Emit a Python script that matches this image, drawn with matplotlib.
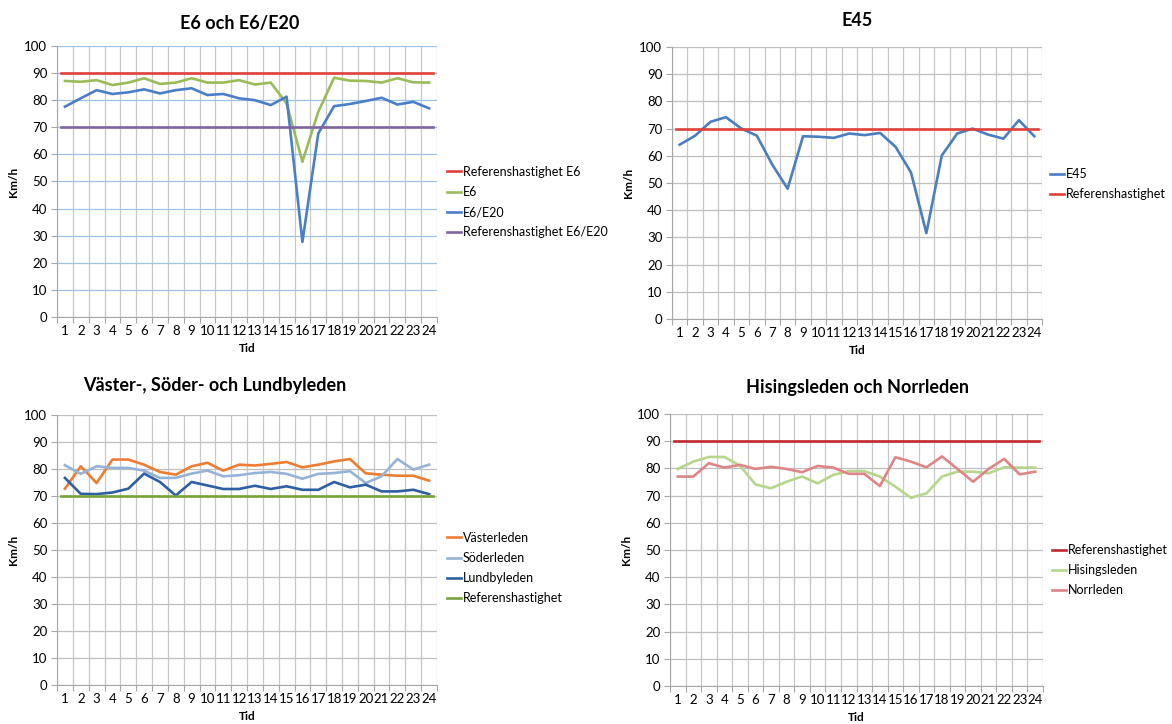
import numpy as np
import matplotlib
matplotlib.use('Agg')
import matplotlib.pyplot as plt

plt.rcParams['font.family'] = ['Lato', 'DejaVu Sans']

hours = list(range(1, 25))

# E6 och E6/E20
e6 = [87.1, 86.8, 87.4, 85.6, 86.5, 88.1, 86.0, 86.5, 88.1, 86.5, 86.5, 87.4,
      85.8, 86.5, 78.8, 57.3, 75.7, 88.3, 87.2, 87.1, 86.5, 88.1, 86.6, 86.5]
e6_e20 = [77.6, 80.7, 83.7, 82.3, 82.9, 84.0, 82.5, 83.7, 84.4, 81.9, 82.3, 80.7,
          80.0, 78.2, 81.3, 27.7, 67.7, 77.8, 78.6, 79.7, 80.9, 78.4, 79.4, 77.0]
ref_e6 = 90
ref_e6_e20 = 70

# E45
e45 = [64.1, 67.4, 72.5, 74.2, 70.0, 67.4, 56.8, 47.9, 67.2, 67.0, 66.6, 68.2,
       67.6, 68.4, 63.3, 53.9, 31.6, 60.1, 68.2, 70.0, 67.8, 66.3, 73.1, 67.2]
ref_e45 = 70

# Väster-, Söder- och Lundbyleden
vaster = [72.7, 81.0, 74.8, 83.5, 83.5, 81.6, 78.9, 77.9, 81.0, 82.3, 79.4, 81.6,
          81.3, 81.9, 82.6, 80.6, 81.6, 82.8, 83.7, 78.4, 77.9, 77.5, 77.5, 75.7]
soder = [81.4, 78.2, 81.0, 80.4, 80.4, 79.4, 76.7, 76.7, 78.3, 79.4, 77.3, 77.7,
         78.5, 78.9, 78.2, 76.4, 78.2, 78.5, 79.2, 74.8, 77.3, 83.7, 79.8, 81.6]
lundby = [76.7, 70.8, 70.7, 71.3, 72.7, 78.3, 75.2, 70.2, 75.2, 73.9, 72.6, 72.6,
          73.8, 72.6, 73.6, 72.3, 72.3, 75.2, 73.2, 74.2, 71.7, 71.7, 72.3, 70.7]
ref_vsl = 70

# Hisingsleden och Norrleden
hisings = [79.8, 82.5, 84.2, 84.2, 81.0, 74.1, 72.7, 75.1, 77.0, 74.5, 77.6, 79.0,
           79.0, 77.0, 73.3, 69.2, 70.8, 77.0, 78.8, 78.8, 78.2, 80.4, 80.3, 80.3]
norr = [77.0, 77.0, 81.9, 80.3, 81.3, 79.8, 80.6, 79.8, 78.6, 80.9, 80.3, 78.0,
        78.0, 73.5, 84.1, 82.5, 80.4, 84.4, 79.8, 75.1, 79.8, 83.5, 77.8, 78.8]
ref_hn = 90


def style_axes(ax, hgrid='#BFBFBF'):
    ax.set_xlim(0.5, 24.5)
    ax.set_ylim(0, 100)
    ax.set_yticks(range(0, 101, 10))
    ax.set_xticks(np.arange(0.5, 25, 1))
    ax.set_xticks(hours, minor=True)
    ax.set_xticklabels([])
    ax.set_xticklabels([str(h) for h in hours], minor=True)
    ax.tick_params(axis='x', which='major', length=4, color='#A6A6A6')
    ax.tick_params(axis='x', which='minor', length=0, pad=6, labelsize=9.5)
    ax.tick_params(axis='y', length=4, color='#A6A6A6', labelsize=9.5, pad=3)
    ax.grid(axis='x', which='major', color='#C8C8C8', lw=0.9)
    ax.grid(axis='y', color=hgrid, lw=0.9)
    ax.set_axisbelow(True)
    for s in ['top', 'right']:
        ax.spines[s].set_visible(False)
    ax.spines['left'].set_color('#A6A6A6')
    ax.spines['bottom'].set_color('#A6A6A6')
    ax.set_ylabel('Km/h', fontsize=8.5, fontweight='bold', labelpad=4)
    ax.set_xlabel('Tid', fontsize=8.5, fontweight='bold', labelpad=4)


fig = plt.figure(figsize=(11.72, 7.24), dpi=100)
W, H = 1172, 724


def add_ax(x0, x1, y0, y1):
    return fig.add_axes([x0 / W, 1 - y1 / H, (x1 - x0) / W, (y1 - y0) / H])


lw = 1.9
leg_kw = dict(loc='center left', frameon=False, fontsize=9, handlelength=1.1,
              handletextpad=0.15, labelspacing=0.65, borderaxespad=0,
              borderpad=0)

# panel 1
ax1 = add_ax(57, 437, 46, 317)
style_axes(ax1, hgrid='#9DC3E6')
l1, = ax1.plot([0.75, 24.25], [ref_e6, ref_e6], color='#E0403A', lw=lw)
l2, = ax1.plot(hours, e6, color='#9BBB59', lw=lw)
l3, = ax1.plot(hours, e6_e20, color='#4A7EC8', lw=lw)
l4, = ax1.plot([0.75, 24.25], [ref_e6_e20, ref_e6_e20], color='#8064A2', lw=lw)
fig.legend([l1, l2, l3, l4], ['Referenshastighet E6', 'E6', 'E6/E20',
           'Referenshastighet E6/E20'], bbox_to_anchor=(447 / W, 1 - 202 / H), **leg_kw)
fig.text(240 / W, 1 - 24 / H, 'E6 och E6/E20', ha='center', va='center',
         fontsize=13, fontweight='bold')

# panel 2
ax2 = add_ax(672, 1042, 47, 319)
style_axes(ax2)
m1, = ax2.plot(hours, e45, color='#4A7EC0', lw=lw)
m2, = ax2.plot([0.75, 24.25], [ref_e45, ref_e45], color='#E0403A', lw=lw)
fig.legend([m1, m2], ['E45', 'Referenshastighet'],
           bbox_to_anchor=(1050 / W, 1 - 184 / H), **leg_kw)
fig.text(857 / W, 1 - 20 / H, 'E45', ha='center', va='center',
         fontsize=13, fontweight='bold')

# panel 3
ax3 = add_ax(57, 437, 415, 685)
style_axes(ax3)
n1, = ax3.plot(hours, vaster, color='#ED7D31', lw=lw)
n2, = ax3.plot(hours, soder, color='#95B3D7', lw=lw)
n3, = ax3.plot(hours, lundby, color='#2E5FA3', lw=lw)
n4, = ax3.plot([0.75, 24.25], [ref_vsl, ref_vsl], color='#77A33A', lw=lw)
fig.legend([n1, n2, n3, n4], ['Västerleden', 'Söderleden', 'Lundbyleden',
           'Referenshastighet'], bbox_to_anchor=(447 / W, 1 - 568 / H), **leg_kw)
fig.text(215 / W, 1 - 386 / H, 'Väster-, Söder- och Lundbyleden', ha='center',
         va='center', fontsize=13, fontweight='bold')

# panel 4
ax4 = add_ax(670, 1043, 414, 686)
style_axes(ax4)
p1, = ax4.plot([0.75, 24.25], [ref_hn, ref_hn], color='#C0282D', lw=lw)
p2, = ax4.plot(hours, hisings, color='#B7D58C', lw=lw)
p3, = ax4.plot(hours, norr, color='#DE8585', lw=lw)
fig.legend([p1, p2, p3], ['Referenshastighet', 'Hisingsleden', 'Norrleden'],
           bbox_to_anchor=(1052 / W, 1 - 570 / H), **leg_kw)
fig.text(858 / W, 1 - 388 / H, 'Hisingsleden och Norrleden', ha='center',
         va='center', fontsize=13, fontweight='bold')

fig.savefig('out.png', dpi=100)
